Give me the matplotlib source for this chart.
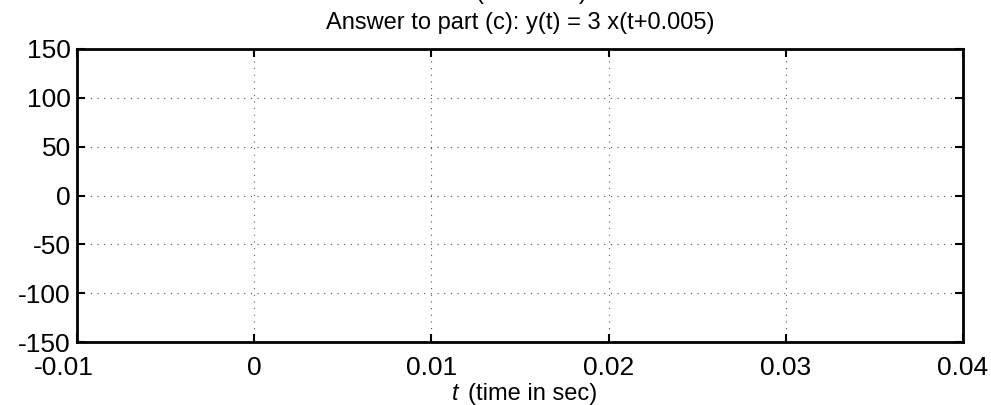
import matplotlib
matplotlib.use("Agg")
import matplotlib.pyplot as plt
from matplotlib.transforms import ScaledTranslation

x_ticks = [-0.01, 0, 0.01, 0.02, 0.03, 0.04]
x_tick_labels = ["-0.01", "0", "0.01", "0.02", "0.03", "0.04"]
y_ticks = [-150, -100, -50, 0, 50, 100, 150]
y_tick_labels = ["-150", "-100", "-50", "0", "50", "100", "150"]
title_lines = ["(time shift)", "Answer to part (c): y(t) = 3 x(t+0.005)"]
xlabel_var = "t"
xlabel_rest = "(time in sec)"

plt.rcParams['font.family'] = ['Liberation Sans', 'DejaVu Sans']

fig = plt.figure(figsize=(9.91, 4.05), dpi=100)
ax = fig.add_axes([77/991, 63/405, (963-77)/991, (342-49)/405])

ax.set_xlim(x_ticks[0], x_ticks[-1])
ax.set_ylim(y_ticks[0], y_ticks[-1])
ax.set_xticks(x_ticks)
ax.set_xticklabels(x_tick_labels)
ax.set_yticks(y_ticks)
ax.set_yticklabels(y_tick_labels)

ax.tick_params(direction='in', length=6, width=1.5, labelsize=19,
               top=True, right=True)
ax.tick_params(axis='x', pad=10)
ax.tick_params(axis='y', pad=4.5)
for s in ax.spines.values():
    s.set_linewidth(2)
ax.grid(True, linestyle=(0, (1, 5)), color='#555555', linewidth=0.8)

# first x tick label sits a little left of its tick, as in the reference
lbl0 = ax.get_xticklabels()[0]
lbl0.set_transform(lbl0.get_transform() + ScaledTranslation(-13/100, 0, fig.dpi_scale_trans))

# x label
fig.text(459/991, 5/405, xlabel_var, ha='right', va='baseline', fontsize=17, style='italic')
fig.text(468/991, 5/405, xlabel_rest, ha='left', va='baseline', fontsize=17)

# title (first line mostly off canvas)
fig.text(531/991, 1 + 1/405, title_lines[0], ha='center', va='baseline', fontsize=17)
fig.text(520/991, (405-29)/405, title_lines[1], ha='center', va='baseline', fontsize=17)

fig.savefig("out.png", dpi=100)
